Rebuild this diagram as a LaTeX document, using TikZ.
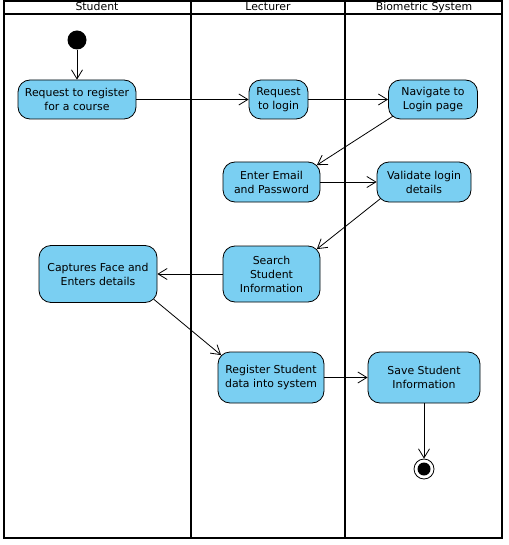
\documentclass[tikz,border=0pt]{standalone}
\usepackage{fontspec}
\setmainfont{DejaVu Sans}
\usetikzlibrary{arrows.meta}
\definecolor{actblue}{RGB}{122,207,242}
\newcommand{\vpfont}{\fontsize{10.9}{14}\selectfont}

\begin{document}
\begin{tikzpicture}[x=1pt, y=-1pt, line width=0.8pt, font=\vpfont,
    -{Straight Barb[length=9pt, width=11pt]},
    act/.style={draw, fill=actblue, rounded corners=12pt, align=center, inner sep=2pt},
    lane/.style={line width=2pt, -},
    title/.style={inner sep=0pt, anchor=base}]

        \useasboundingbox (0,0) rectangle (508,545);

        % swimlanes
        \draw[lane] (4,1) rectangle (502,538);
        \draw[lane] (4,14) -- (502,14);
        \draw[lane] (191,1) -- (191,538);
        \draw[lane] (345,1) -- (345,538);
        \node[title] (student) at (97,11) {Student};
        \node[title] (lecturer) at (268,11) {Lecturer};
        \node[title] (biometric) at (424,11) {Biometric System};

        \node[circle, fill=black, minimum size=19pt, inner sep=0pt] (start) at (77,40) {};
        \node[act, minimum width=118pt, minimum height=39pt] (register) at (77,99.5) {Request to register\\for a course};
        \node[act, minimum width=59pt, minimum height=39pt] (login) at (278.5,99.5) {Request\\to login};
        \node[act, minimum width=89pt, minimum height=39pt] (navigate) at (433,99.5) {Navigate to\\Login page};
        \node[act, minimum width=97pt, minimum height=40pt] (enter) at (271.5,182) {Enter Email\\and Password};
        \node[act, minimum width=94pt, minimum height=40pt] (validate) at (424,182) {Validate login\\details};
        \node[act, minimum width=97pt, minimum height=56pt] (search) at (271.5,274) {Search\\Student\\Information};
        \node[act, minimum width=118pt, minimum height=57pt] (capture) at (98,274) {Captures Face and\\Enters details};
        \node[act, minimum width=106pt, minimum height=51pt] (store) at (271,377.5) {Register Student\\data into system};
        \node[act, minimum width=112pt, minimum height=51pt] (save) at (424,377.5) {Save Student\\Information};
        \node[circle, draw, fill=white, minimum size=20pt, inner sep=0pt] (final) at (424,469) {};
        \fill (final) circle (6.5pt);

        \path
            (start) edge (register)
            (register) edge (login)
            (login) edge (navigate)
            ([shift={(4.5pt,3pt)}]navigate.south west) edge ([shift={(-3.5pt,-3.5pt)}]enter.north east)
            (enter) edge (validate)
            ([shift={(3.5pt,3.5pt)}]validate.south west) edge ([shift={(-3.5pt,-3.5pt)}]search.north east)
            (search) edge (capture)
            ([shift={(-3.5pt,3.5pt)}]capture.south east) edge ([shift={(3.5pt,-3.5pt)}]store.north west)
            (store) edge (save)
            (save) edge (final)
            ;
        \end{tikzpicture}
\end{document}
